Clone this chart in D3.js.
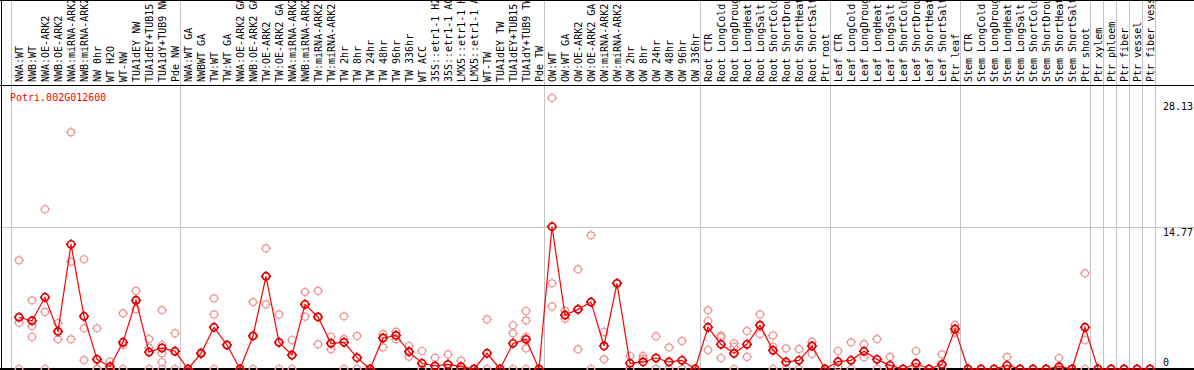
<!DOCTYPE html>
<meta charset="utf-8">
<script src="https://d3js.org/d3.v7.min.js"></script>
<style>
  body { margin: 0; background: #fff; }
  text { font-family: "DejaVu Sans Mono", monospace; font-size: 10px; }
</style>
<div id="my_dataviz"></div>
<script>

// gene shown in the panel
var geneName = "Potri.002G012600";

// sample labels, one per column
var labels = [
  "NWA:WT", "NWB:WT", "NWA:OE-ARK2", "NWB:OE-ARK2", "NWA:miRNA-ARK2", "NWB:miRNA-ARK2",
  "NW 0hr", "WT H2O", "WT-NW", "TUA1dEY NW", "TUA1dEY+TUB15", "TUA1dY+TUB9 NW", "Pde NW",
  "NWA:WT GA", "NWBWT GA", "TW:WT", "TW:WT GA", "NWA:OE-ARK2 GA", "NWB:OE-ARK2 GA",
  "TW:OE-ARK2", "TW:OE-ARK2 GA", "NWA:miRNA-ARK2", "NWB:miRNA-ARK2", "TW:miRNA-ARK2",
  "TW:miRNA-ARK2", "TW 2hr", "TW 8hr", "TW 24hr", "TW 48hr", "TW 96hr", "TW 336hr",
  "WT ACC", "35S::etr1-1 H2O", "35S::etr1-1 ACC", "LMX5::etr1-1 H2O", "LMX5::etr1-1 ACC",
  "WT-TW", "TUA1dEY TW", "TUA1dEY+TUB15", "TUA1dY+TUB9 TW", "Pde TW",
  "OW:WT", "OW:WT GA", "OW:OE-ARK2", "OW:OE-ARK2 GA", "OW:miRNA-ARK2", "OW:miRNA-ARK2",
  "OW 2hr", "OW 8hr", "OW 24hr", "OW 48hr", "OW 96hr", "OW 336hr",
  "Root CTR", "Root LongCold", "Root LongDrought", "Root LongHeat", "Root LongSalt",
  "Root ShortCold", "Root ShortDrought", "Root ShortHeat", "Root ShortSalt", "Ptr root",
  "Leaf CTR", "Leaf LongCold", "Leaf LongDrought", "Leaf LongHeat", "Leaf LongSalt",
  "Leaf ShortCold", "Leaf ShortDrought", "Leaf ShortHeat", "Leaf ShortSalt", "Ptr leaf",
  "Stem CTR", "Stem LongCold", "Stem LongDrought", "Stem LongHeat", "Stem LongSalt",
  "Stem ShortCold", "Stem ShortDrought", "Stem ShortHeat", "Stem ShortSalt", "Ptr shoot",
  "Ptr xylem", "Ptr phloem", "Ptr fiber", "Ptr vessel", "Ptr fiber vessel"
];

// column index where each experiment group starts (last entry = end)
var groupBreaks = [0, 13, 41, 53, 63, 73, 83, 84, 85, 86, 87, 88];

// mean expression per sample
var means = [
  5.37, 5.01, 7.44, 3.91, 12.94, 5.47, 1.0, 0.24, 2.77, 7.13, 1.76, 2.18, 1.84,
  0, 1.63, 4.33, 2.49, 0, 3.43, 9.62, 2.77, 1.45, 6.71, 5.40, 2.66, 2.77, 1.18, 0,
  3.22, 3.49, 1.80, 0.59, 0.31, 0.48, 0.24, 0, 1.63, 0, 2.66, 3.08, 0,
  14.77, 5.60, 6.19, 6.95, 2.39, 8.89, 0.59, 0.73, 1.14, 0.73, 0.90, 0,
  4.33, 2.56, 1.63, 2.56, 4.54, 1.94, 0.73, 0.90, 2.39, 0,
  0.76, 0.90, 1.84, 1.0, 0.38, 0, 0.59, 0, 0.48, 4.15,
  0, 0, 0, 0.38, 0, 0, 0, 0.24, 0, 4.33,
  0, 0, 0, 0, 0
];

// individual replicates per sample
var replicates = [
  [11.28, 4.81, 0], [7.13, 4.46, 3.32], [16.58, 5.92, 0], [4.77, 3.88, 3.08],
  [24.57, 11.14, 3.08], [11.39, 4.22, 0.93], [4.22, 0, 0], [0.76, 0, 0],
  [5.78, 2.49, 0], [8.10, 7.1, 6.19], [3.11, 2.21, 0], [6.12, 2.49, 1.63, 0.70, 0],
  [3.70, 1.84, 0],
  [0, 0, 0], [1.7, 1.6, 1.6], [7.34, 5.67, 0], [2.49, 2.49], [0, 0], [6.95, 3.43, 0],
  [12.53, 9.62, 6.71], [5.67, 2.77, 0], [3.01, 1.45, 0], [7.99, 6.71, 5.43],
  [8.10, 5.4, 2.56], [3.35, 2.66, 2.04], [5.47, 3.11, 0], [3.43, 0], [0, 0],
  [3.63, 3.22, 2.25], [3.87, 3.49, 3.08], [2.39, 1.8, 1.28], [1.87, 0], [1.18, 0],
  [1.52, 0], [0.87, 0], [0, 0], [5.15, 0], [0], [4.54, 3.70, 0],
  [6.02, 5.05, 3.35, 2.14, 0], [0],
  [28.13, 8.89, 6.50], [6.05, 5.6, 5.22], [10.35, 6.19, 2.04], [13.88, 6.95, 0],
  [3.84, 2.39, 1.0], [8.89, 8.89], [1.35, 0], [1.35, 1.07], [3.39, 0], [2.25, 0],
  [2.91, 0], [0],
  [6.09, 4.98, 1.97], [3.46, 3.3, 1.14], [2.66, 2.31, 0], [3.94, 2.56, 1.25],
  [5.67, 4.54, 3.63], [3.49, 2.31, 0], [2.14, 0], [2.07, 0], [2.84, 2.39, 1.56], [0],
  [1.87, 0.25], [2.77, 0], [2.59, 1.84, 1.21], [3.11, 0], [1.25, 0], [0], [1.87, 0],
  [0], [1.52, 0], [4.57, 4.15, 3.77],
  [0], [0], [0], [1.25, 0], [0], [0], [0], [1.14, 0], [0], [9.93, 3.01, 0],
  [0], [0], [0], [0], [0]
];

// values written on the right side
var axisTicks = [28.13, 14.77, 0];

var width = 1194, height = 370,
    headerBottom = 85;

var svg = d3.select("#my_dataviz")
  .append("svg")
    .attr("width", width)
    .attr("height", height);

var idx = d3.range(labels.length);

var x = d3.scaleBand()
  .domain(idx)
  .range([11, 11 + 13 * labels.length])
  .paddingInner(0).paddingOuter(0);

var y = d3.scaleLinear()
  .domain([0, d3.max(replicates.flat())])
  .range([369, 98]);

function cx(i) { return x(i) + 8; }

// marker: small circle with tiny ticks on four sides
function marker(r) {
  var t = 1.5;
  return "M" + (-r) + ",0a" + r + "," + r + " 0 1,0 " + (2 * r) + ",0a" + r + "," + r + " 0 1,0 " + (-2 * r) + ",0" +
    "M0," + (-r - t) + "V" + (-r) + "M0," + (r) + "V" + (r + t) +
    "M" + (-r - t) + ",0H" + (-r) + "M" + r + ",0H" + (r + t);
}

// gray separators between groups
svg.selectAll("line.sep")
  .data(groupBreaks)
  .enter()
  .append("line")
    .attr("x1", function(d) { return (d < labels.length ? x(d) : x(labels.length - 1) + 13) + 0.5; })
    .attr("x2", function(d) { return (d < labels.length ? x(d) : x(labels.length - 1) + 13) + 0.5; })
    .attr("y1", 0)
    .attr("y2", height)
    .attr("stroke", "#c4c4c4")
    .attr("stroke-width", 1);

// gridline at mean maximum
svg.append("line")
  .attr("x1", 0).attr("x2", width)
  .attr("y1", Math.round(y(d3.max(means))) + 0.5)
  .attr("y2", Math.round(y(d3.max(means))) + 0.5)
  .attr("stroke", "#c4c4c4");

// frame lines
svg.append("line").attr("x1", 0).attr("x2", width).attr("y1", 0.5).attr("y2", 0.5).attr("stroke", "#000");
svg.append("line").attr("x1", 0).attr("x2", width).attr("y1", headerBottom + 0.5).attr("y2", headerBottom + 0.5).attr("stroke", "#000");
svg.append("line").attr("x1", 1.5).attr("x2", 1.5).attr("y1", 0).attr("y2", height).attr("stroke", "#000");
svg.append("line").attr("x1", 0).attr("x2", width).attr("y1", y(0)).attr("y2", y(0)).attr("stroke", "#000").attr("stroke-width", 2);

// sample labels, rotated
svg.selectAll("text.lab")
  .data(idx)
  .enter()
  .append("text")
    .attr("class", "lab")
    .attr("transform", function(i) { return "translate(" + (cx(i) + 3.5) + "," + (headerBottom - 3) + ")rotate(-90)"; })
    .attr("fill", "#000")
    .text(function(i) { return labels[i]; });

// gene title
svg.append("text")
  .attr("x", 10)
  .attr("y", 101)
  .attr("fill", "#ff0000")
  .text(geneName);

// right side value labels
svg.selectAll("text.val")
  .data(axisTicks)
  .enter()
  .append("text")
    .attr("x", 1163)
    .attr("y", function(d) { return d === 0 ? y(d) - 3 : y(d) + (d === axisTicks[0] ? 12 : 9); })
    .attr("fill", "#000")
    .text(function(d) { return d; });

// replicate points
var reps = [];
replicates.forEach(function(arr, i) { arr.forEach(function(v) { reps.push({i: i, v: v}); }); });

svg.selectAll("path.rep")
  .data(reps)
  .enter()
  .append("path")
    .attr("d", marker(3.5))
    .attr("transform", function(d) { return "translate(" + cx(d.i) + "," + y(d.v) + ")"; })
    .attr("fill", "none")
    .attr("stroke", "#ee9494")
    .attr("stroke-width", 1.2);

// line through the means
svg.append("path")
  .datum(means)
  .attr("fill", "none")
  .attr("stroke", "#ff0000")
  .attr("stroke-width", 1.2)
  .attr("d", d3.line()
    .x(function(d, i) { return cx(i); })
    .y(function(d) { return y(d); }));

// mean points
svg.selectAll("path.mean")
  .data(means)
  .enter()
  .append("path")
    .attr("d", marker(3.6))
    .attr("transform", function(d, i) { return "translate(" + cx(i) + "," + y(d) + ")"; })
    .attr("fill", "none")
    .attr("stroke", "#e00000")
    .attr("stroke-width", 1.7);

</script>
